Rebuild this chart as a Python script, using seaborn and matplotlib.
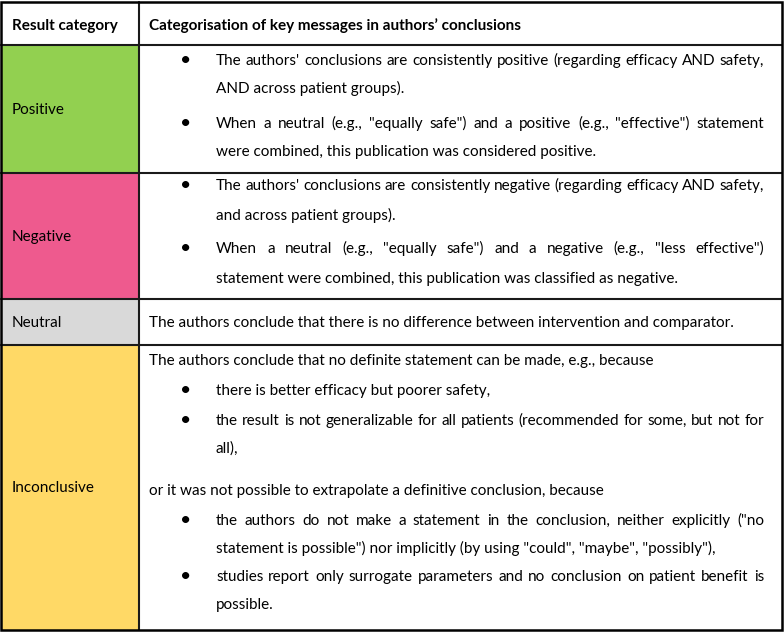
import matplotlib
matplotlib.use("Agg")
import matplotlib.pyplot as plt
import seaborn as sns
from matplotlib.patches import Rectangle
from matplotlib.font_manager import FontProperties

# Table content
headers = ["Result category", "Categorisation of key messages in authors\u2019 conclusions"]
categories = ["Positive", "Negative", "Neutral", "Inconclusive"]
cell_colors = ["#92D050", "#EE5A8E", "#D9D9D9", "#FFD966"]

positive_text = [
    ("bullet", ["The authors' conclusions are consistently positive (regarding efficacy AND safety,",
                "AND across patient groups)."]),
    ("bullet", ["When a neutral (e.g., \"equally safe\") and a positive (e.g., \"effective\") statement",
                "were combined, this publication was considered positive."]),
]
negative_text = [
    ("bullet", ["The authors' conclusions are consistently negative (regarding efficacy AND safety,",
                "and across patient groups)."]),
    ("bullet", ["When a neutral (e.g., \"equally safe\") and a negative (e.g., \"less effective\")",
                "statement were combined, this publication was classified as negative."]),
]
neutral_text = [
    ("plain", ["The authors conclude that there is no difference between intervention and comparator."]),
]
inconclusive_text = [
    ("plain", ["The authors conclude that no definite statement can be made, e.g., because"]),
    ("bullet", ["there is better efficacy but poorer safety,"]),
    ("bullet", ["the result is not generalizable for all patients (recommended for some, but not for",
                "all),"]),
    ("plain", ["or it was not possible to extrapolate a definitive conclusion, because"]),
    ("bullet", ["the authors do not make a statement in the conclusion, neither explicitly (\"no",
                "statement is possible\") nor implicitly (by using \"could\", \"maybe\", \"possibly\"),"]),
    ("bullet", ["studies report only surrogate parameters and no conclusion on patient benefit is",
                "possible."]),
]
row_texts = [positive_text, negative_text, neutral_text, inconclusive_text]

# Layout (pixels)
W, H = 784, 632
x_left, x_right = 1.5, 782.5
x_div = 139
row_edges = [2, 45, 173, 299, 345, 630]
para_y = [[60, 123], [185, 248], [322], [360, 390, 420, 490, 520, 576]]
line_step = [28, 30, 28, 28]
x_label, x_plain, x_bullet, x_btext, x_just = 12, 149, 186, 216, 764
base_off = 5

sns.set_theme(style="white")
plt.rcParams["font.family"] = ["Lato", "DejaVu Sans"]
fs = 11
font = FontProperties(family=["Lato", "DejaVu Sans"], size=fs)

fig = plt.figure(figsize=(W / 100, H / 100), dpi=100)
ax = fig.add_axes([0, 0, 1, 1])
ax.set_xlim(0, W)
ax.set_ylim(H, 0)
ax.axis("off")
renderer = fig.canvas.get_renderer()


def word_width(w):
    return renderer.get_text_width_height_descent(w, font, ismath=False)[0]


def draw_line(text, x0, y, justify):
    words = text.split(" ")
    if not justify or len(words) < 2:
        ax.text(x0, y, text, fontproperties=font, ha="left", va="baseline", color="black")
        return
    # spread the words so the line ends at the right margin
    widths = [word_width(w) for w in words]
    gap = (x_just - x0 - sum(widths)) / (len(words) - 1)
    x = x0
    for w, wd in zip(words, widths):
        ax.text(x, y, w, fontproperties=font, ha="left", va="baseline", color="black")
        x += wd + gap


# header
for x, label in zip([x_label, x_plain], headers):
    ax.text(x, 25 + base_off, label, fontproperties=font, fontweight="bold",
            ha="left", va="baseline", color="black")

for i, cat in enumerate(categories):
    top, bottom = row_edges[i + 1], row_edges[i + 2]
    ax.add_patch(Rectangle((x_left, top), x_div - x_left, bottom - top,
                           facecolor=cell_colors[i], edgecolor="none", zorder=0))
    ax.text(x_label, (top + bottom) / 2 + base_off, cat, fontproperties=font,
            ha="left", va="baseline", color="black")
    for (kind, lines), y0 in zip(row_texts[i], para_y[i]):
        x0 = x_btext if kind == "bullet" else x_plain
        if kind == "bullet":
            ax.text(x_bullet, y0 + base_off + 1, "\u2022", fontproperties=font, fontsize=fs + 3,
                    ha="center", va="baseline", color="black")
        for k, line in enumerate(lines):
            draw_line(line, x0, y0 + k * line_step[i] + base_off, k < len(lines) - 1)

# grid lines
for y in row_edges[1:-1]:
    ax.plot([x_left, x_right], [y, y], color="#1a1a1a", lw=1.5, zorder=3)
ax.plot([x_div, x_div], [row_edges[0], row_edges[-1]], color="#1a1a1a", lw=1.5, zorder=3)
ax.add_patch(Rectangle((x_left, row_edges[0]), x_right - x_left, row_edges[-1] - row_edges[0],
                       facecolor="none", edgecolor="black", lw=1.8, zorder=4))

fig.savefig("out.png", dpi=100)
